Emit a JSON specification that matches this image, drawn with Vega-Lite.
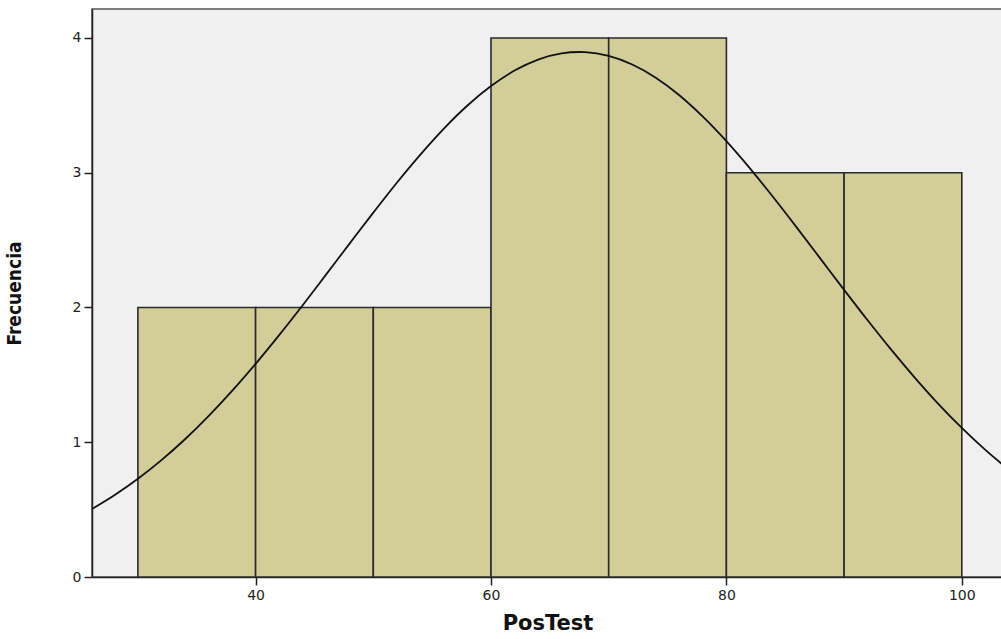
{
  "$schema": "https://vega.github.io/schema/vega-lite/v6.json",
  "autosize": {"type": "none"},
  "padding": {"left": 92, "top": 9, "right": 0, "bottom": 62},
  "width": 911,
  "height": 568,
  "background": "white",
  "config": {
    "view": {"fill": "#f0f0f0", "stroke": "#555555", "strokeWidth": 1.5},
    "axis": {
      "grid": false,
      "domainColor": "#222222",
      "domainWidth": 1.5,
      "tickColor": "#222222",
      "tickWidth": 1.5,
      "tickSize": 8,
      "labelFont": "DejaVu Sans",
      "labelFontSize": 14,
      "labelColor": "#222222",
      "labelPadding": 3,
      "format": "d"
    }
  },
  "datasets": {
    "bars": [
      {"desde": 30, "hasta": 40, "frecuencia": 2},
      {"desde": 40, "hasta": 50, "frecuencia": 2},
      {"desde": 50, "hasta": 60, "frecuencia": 2},
      {"desde": 60, "hasta": 70, "frecuencia": 4},
      {"desde": 70, "hasta": 80, "frecuencia": 4},
      {"desde": 80, "hasta": 90, "frecuencia": 3},
      {"desde": 90, "hasta": 100, "frecuencia": 3}
    ],
    "curva": [
      {"x": 26, "y": 0.500}, {"x": 28, "y": 0.607}, {"x": 30, "y": 0.729},
      {"x": 32, "y": 0.867}, {"x": 34, "y": 1.022}, {"x": 36, "y": 1.194},
      {"x": 38, "y": 1.381}, {"x": 40, "y": 1.582}, {"x": 42, "y": 1.795},
      {"x": 44, "y": 2.017}, {"x": 46, "y": 2.246}, {"x": 48, "y": 2.476},
      {"x": 50, "y": 2.704}, {"x": 52, "y": 2.926}, {"x": 54, "y": 3.135},
      {"x": 56, "y": 3.328}, {"x": 58, "y": 3.499}, {"x": 60, "y": 3.643},
      {"x": 62, "y": 3.758}, {"x": 64, "y": 3.840}, {"x": 66, "y": 3.886},
      {"x": 67.5, "y": 3.896}, {"x": 68, "y": 3.895}, {"x": 70, "y": 3.867},
      {"x": 72, "y": 3.803}, {"x": 74, "y": 3.705}, {"x": 76, "y": 3.575},
      {"x": 78, "y": 3.416}, {"x": 80, "y": 3.234}, {"x": 82, "y": 3.032},
      {"x": 84, "y": 2.816}, {"x": 86, "y": 2.591}, {"x": 88, "y": 2.361},
      {"x": 90, "y": 2.131}, {"x": 92, "y": 1.905}, {"x": 94, "y": 1.687},
      {"x": 96, "y": 1.480}, {"x": 98, "y": 1.285}, {"x": 100, "y": 1.106},
      {"x": 102, "y": 0.943}, {"x": 104, "y": 0.796}
    ]
  },
  "layer": [
    {
      "data": {"name": "bars"},
      "mark": {"type": "rect", "fill": "#d3ce99", "stroke": "#2a2a2a", "strokeWidth": 1.6},
      "encoding": {
        "x": {
          "field": "desde", "type": "quantitative",
          "scale": {"domain": [26.1, 103.5], "nice": false, "zero": false},
          "axis": {
            "values": [40, 60, 80, 100],
            "title": "PosTest",
            "titleFont": "DejaVu Sans",
            "titleFontSize": 21,
            "titleFontWeight": "bold",
            "titleColor": "#111111",
            "titlePadding": 10
          }
        },
        "x2": {"field": "hasta"},
        "y": {
          "field": "frecuencia", "type": "quantitative",
          "scale": {"domain": [0, 4.215], "nice": false},
          "axis": {
            "values": [0, 1, 2, 3, 4],
            "title": "Frecuencia",
            "titleFont": "DejaVu Sans Condensed, Liberation Sans Narrow, Roboto",
            "titleFontSize": 19,
            "titleFontWeight": "bold",
            "titleColor": "#111111",
            "titlePadding": 48
          }
        },
        "y2": {"datum": 0}
      }
    },
    {
      "data": {"name": "curva"},
      "mark": {"type": "line", "color": "#111111", "strokeWidth": 1.8, "clip": true, "interpolate": "monotone"},
      "encoding": {
        "x": {"field": "x", "type": "quantitative"},
        "y": {"field": "y", "type": "quantitative"}
      }
    }
  ]
}
